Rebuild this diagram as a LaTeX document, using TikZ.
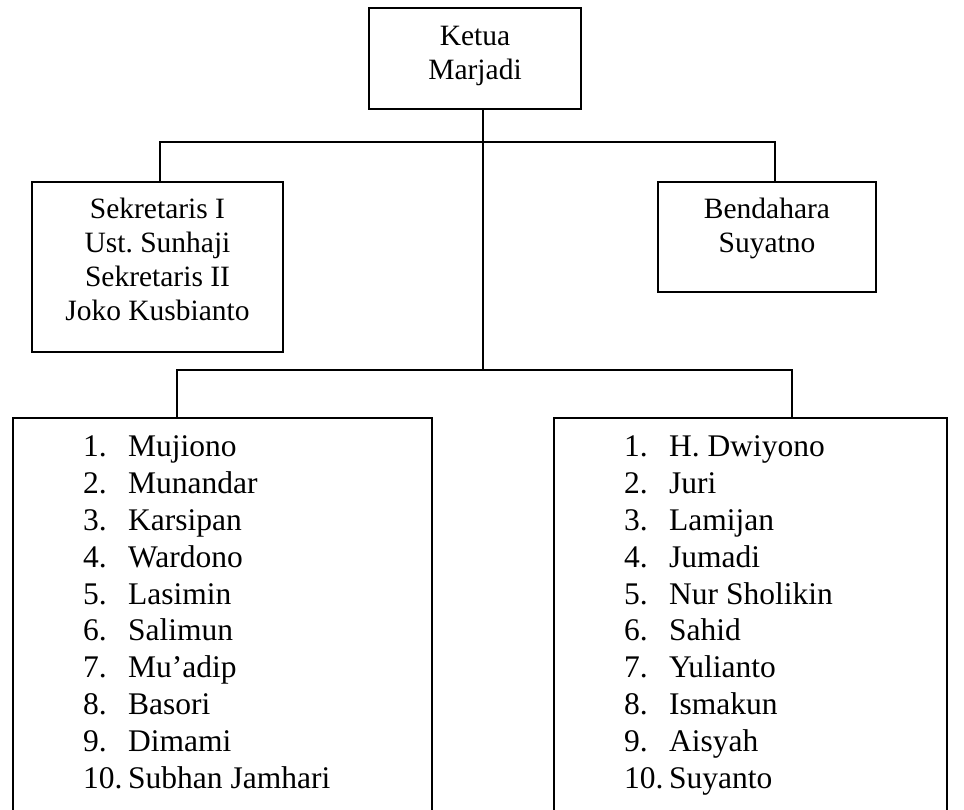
\documentclass[tikz,border=0pt]{standalone}
\usepackage{fontspec}
\setmainfont{Liberation Serif}
\frenchspacing
\newcommand{\numit}[1]{\makebox[45pt][l]{#1}}
\begin{document}
\begin{tikzpicture}[x=1pt,y=-1pt,
  box/.style={draw, line width=1.3pt, rectangle, inner sep=0pt, outer sep=0pt},
  toptxt/.style={font=\fontsize{29.5}{34}\selectfont\frenchspacing, align=center, anchor=base, inner sep=0pt},
  listtxt/.style={font=\fontsize{31.5}{36.8}\selectfont\frenchspacing, align=left, anchor=base west, inner sep=0pt},
  conn/.style={line width=1.3pt}]
\clip (0,0) rectangle (964,810);
\fill[white] (0,0) rectangle (964,810);
% boxes
\node[box, minimum width=212pt, minimum height=101pt] (ketua) at (475,58.5) {};
\node[box, minimum width=251pt, minimum height=170pt] (sek) at (157.5,267) {};
\node[box, minimum width=218pt, minimum height=110pt] (ben) at (767,237) {};
\node[box, minimum width=419pt, minimum height=420pt] (listL) at (222.5,628) {};
\node[box, minimum width=393pt, minimum height=420pt] (listR) at (750.5,628) {};
% texts (anchor base = baseline of the last line)
\node[toptxt] (tketua) at (475,80) {Ketua\\Marjadi};
\node[toptxt] (tsek) at (157.5,320) {Sekretaris I\\Ust. Sunhaji\\Sekretaris II\\Joko Kusbianto};
\node[toptxt] (tben) at (767,253) {Bendahara\\Suyatno};
\node[listtxt] (tlistL) at (83,788) {\numit{1.}Mujiono\\\numit{2.}Munandar\\\numit{3.}Karsipan\\\numit{4.}Wardono\\\numit{5.}Lasimin\\\numit{6.}Salimun\\\numit{7.}Mu’adip\\\numit{8.}Basori\\\numit{9.}Dimami\\\numit{10.}Subhan Jamhari};
\node[listtxt] (tlistR) at (624,788) {\numit{1.}H. Dwiyono\\\numit{2.}Juri\\\numit{3.}Lamijan\\\numit{4.}Jumadi\\\numit{5.}Nur Sholikin\\\numit{6.}Sahid\\\numit{7.}Yulianto\\\numit{8.}Ismakun\\\numit{9.}Aisyah\\\numit{10.}Suyanto};
% connectors
\coordinate (cx) at (483,0);
\coordinate (ta) at (160,142);
\coordinate (tb) at (775,142);
\coordinate (ba) at (177,370);
\coordinate (bb) at (792,370);
\draw[conn] (ketua.south -| cx) -- (ba -| cx);
\draw[conn] (sek.north -| ta) |- (tb) -- (ben.north -| tb);
\draw[conn] (listL.north -| ba) |- (bb) -- (listR.north -| bb);
\end{tikzpicture}
\end{document}
